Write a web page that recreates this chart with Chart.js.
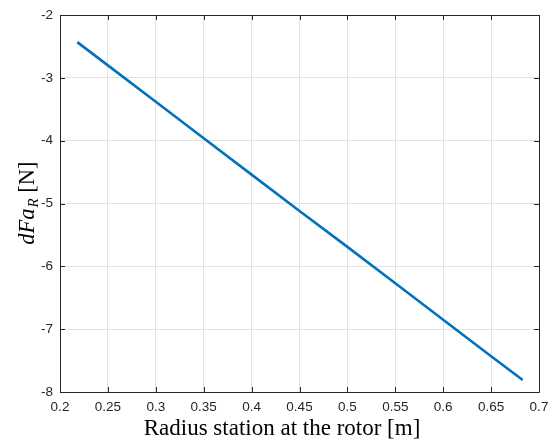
<!DOCTYPE html>
<html lang="en">

<head>
    <meta charset="UTF-8">
    <title>dFa_R vs radius</title>
    <style>
        body { margin: 0; background: #ffffff; }
    </style>
</head>

<body>
    <canvas id="myChart" width="556" height="441"></canvas>

    <script src="https://cdn.jsdelivr.net/npm/chart.js"></script>

    <script>
        // values
        var radius = [0.218, 0.25, 0.3, 0.35, 0.4, 0.45, 0.5, 0.55, 0.6, 0.65, 0.683];
        var dFaR = [-2.43, -2.80, -3.38, -3.96, -4.54, -5.12, -5.69, -6.27, -6.85, -7.43, -7.81];

        var xTicks = [0.2, 0.25, 0.3, 0.35, 0.4, 0.45, 0.5, 0.55, 0.6, 0.65, 0.7];
        var yTicks = [-8, -7, -6, -5, -4, -3, -2];

        var X_TITLE = "Radius station at the rotor [m]";

        var AXIS_COLOR = "#262626";
        var GRID_COLOR = "#e3e3e3";
        var SERIF = "'Liberation Serif', serif";

        Chart.defaults.font.family = "'Liberation Sans', Arial, sans-serif";
        Chart.defaults.font.size = 13.5;
        Chart.defaults.color = AXIS_COLOR;

        // box round the axes with inward ticks, like matlab, plus the axis titles
        var boxPlugin = {
            id: "matlabBox",
            beforeDatasetsDraw: function (chart) {
                var ctx = chart.ctx;
                var a = chart.chartArea;
                var xs = chart.scales.x;
                var ys = chart.scales.y;
                var tl = 5;
                ctx.save();
                ctx.strokeStyle = AXIS_COLOR;
                ctx.lineWidth = 1;
                ctx.beginPath();
                ctx.rect(Math.round(a.left) + 0.5, Math.round(a.top) + 0.5,
                    Math.round(a.right - a.left), Math.round(a.bottom - a.top));
                xTicks.forEach(function (v) {
                    var px = Math.round(xs.getPixelForValue(v)) + 0.5;
                    ctx.moveTo(px, a.bottom);
                    ctx.lineTo(px, a.bottom - tl);
                    ctx.moveTo(px, a.top);
                    ctx.lineTo(px, a.top + tl);
                });
                yTicks.forEach(function (v) {
                    var py = Math.round(ys.getPixelForValue(v)) + 0.5;
                    ctx.moveTo(a.left, py);
                    ctx.lineTo(a.left + tl, py);
                    ctx.moveTo(a.right, py);
                    ctx.lineTo(a.right - tl, py);
                });
                ctx.stroke();
                ctx.restore();
            },
            afterDraw: function (chart) {
                var ctx = chart.ctx;
                var a = chart.chartArea;
                ctx.save();
                ctx.fillStyle = "#000000";

                // x title (sits a bit left of the axes centre in the original)
                ctx.font = "23px " + SERIF;
                ctx.textAlign = "center";
                ctx.textBaseline = "middle";
                ctx.fillText(X_TITLE, 282, 429);

                // y title with subscript: dFa_R [N]
                var big = "italic 22.5px " + SERIF;
                var sub = "italic 15px " + SERIF;
                var rom = "22.5px " + SERIF;
                ctx.textAlign = "left";
                ctx.textBaseline = "alphabetic";
                ctx.font = big; var w1 = ctx.measureText("dFa").width;
                ctx.font = sub; var w2 = ctx.measureText("R").width;
                ctx.font = rom; var w3 = ctx.measureText(" [N]").width;
                var total = w1 + w2 + w3;
                ctx.translate(34, (a.top + a.bottom) / 2);
                ctx.rotate(-Math.PI / 2);
                var x0 = -total / 2;
                ctx.font = big; ctx.fillText("dFa", x0, 0);
                ctx.font = sub; ctx.fillText("R", x0 + w1 + 1, 4);
                ctx.font = rom; ctx.fillText(" [N]", x0 + w1 + w2 + 1, 0);
                ctx.restore();
            }
        };

        var points = [];
        radius.forEach(function (r, i) {
            points.push({ x: r, y: dFaR[i] });
        });

        var chart = new Chart("myChart", {
            type: "line",
            data: {
                datasets: [{
                    data: points,
                    borderColor: "#0072BD",
                    borderWidth: 2.6,
                    pointRadius: 0,
                    tension: 0,
                    fill: false
                }]
            },
            options: {
                responsive: false,
                animation: false,
                layout: { padding: { left: 0, right: 17, top: 15, bottom: 0 } },
                plugins: {
                    legend: { display: false },
                    tooltip: { enabled: false }
                },
                scales: {
                    x: {
                        type: "linear",
                        min: 0.2,
                        max: 0.7,
                        afterBuildTicks: function (scale) {
                            scale.ticks = xTicks.map(function (v) { return { value: v }; });
                        },
                        afterFit: function (scale) { scale.height = 49; },
                        ticks: {
                            padding: 7,
                            maxRotation: 0,
                            autoSkip: false,
                            callback: function (v) { return String(+v.toFixed(2)); }
                        },
                        grid: { color: GRID_COLOR, drawTicks: false },
                        border: { display: false }
                    },
                    y: {
                        type: "linear",
                        min: -8,
                        max: -2,
                        afterBuildTicks: function (scale) {
                            scale.ticks = yTicks.map(function (v) { return { value: v }; });
                        },
                        afterFit: function (scale) { scale.width = 60; },
                        ticks: {
                            padding: 7,
                            autoSkip: false,
                            callback: function (v) { return String(v); }
                        },
                        grid: { color: GRID_COLOR, drawTicks: false },
                        border: { display: false }
                    }
                }
            },
            plugins: [boxPlugin]
        });
    </script>
</body>

</html>
